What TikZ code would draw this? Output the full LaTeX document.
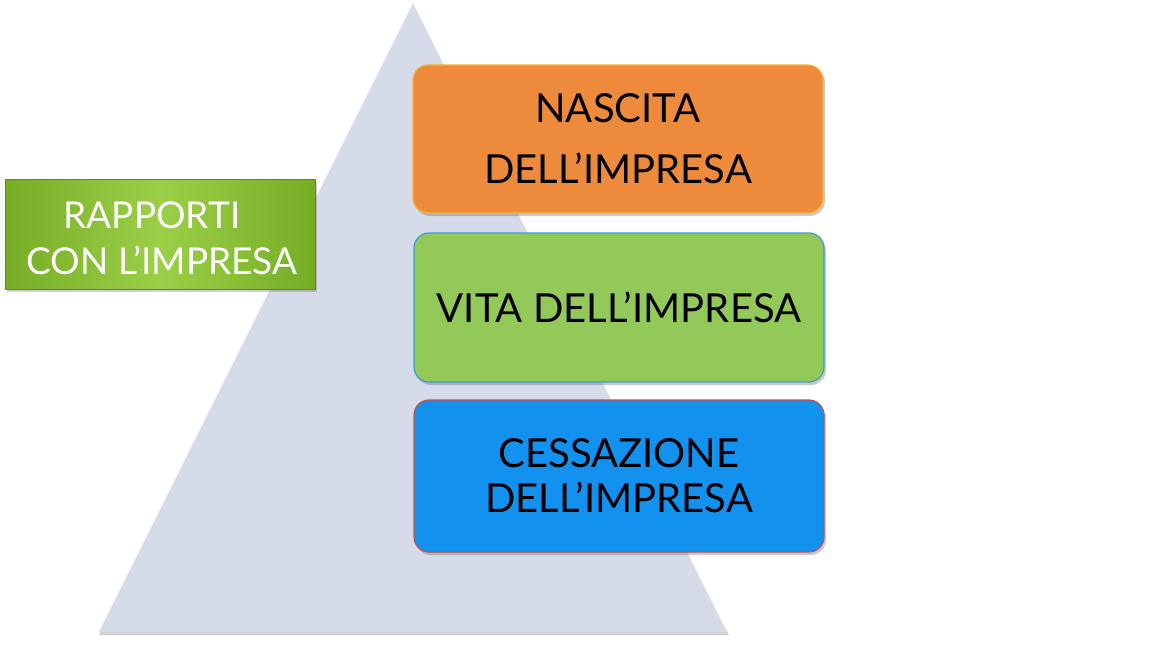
\documentclass[tikz,border=0pt]{standalone}
\usepackage{fontspec}
\setmainfont{Lato}
\usetikzlibrary{shadows}
\definecolor{tri}{HTML}{D5DBE9}
\definecolor{orangefill}{HTML}{EE8A3C}
\definecolor{orangeline}{HTML}{F7B232}
\definecolor{midgreen}{HTML}{93C958}
\definecolor{midline}{HTML}{3A9BDC}
\definecolor{bluefill}{HTML}{1391EE}
\definecolor{blueline}{HTML}{C0504D}
\definecolor{leftdark}{HTML}{76AD24}
\definecolor{leftlight}{HTML}{9BCF48}
\tikzset{
  stagebox/.style={rounded corners=15pt, minimum width=410pt, minimum height=148pt,
    line width=1.2pt, align=center, inner sep=0pt,
    drop shadow={shadow xshift=2pt, shadow yshift=-3pt, opacity=0.35, fill=black!60},
    font=\fontsize{40}{61}\selectfont},
  leftbox/.style={minimum width=310pt, minimum height=110pt, inner sep=0pt,
    left color=leftdark, right color=leftdark, middle color=leftlight,
    draw=leftdark!80!black, line width=0.6pt,
    drop shadow={shadow xshift=2pt, shadow yshift=-3pt, opacity=0.3, fill=black!60}},
  lefttext/.style={align=center, text=white, inner sep=0pt, font=\fontsize{37}{46}\selectfont}
}
\begin{document}
\begin{tikzpicture}[x=1pt,y=-1pt]
\useasboundingbox (0,0) rectangle (1152,648);
% pyramid
\fill[black, opacity=0.18] (413,6) -- (729,635) -- (99,635) -- cycle;
\fill[tri] (413,3) -- (727,632) -- (99,632) -- cycle;
\draw[white, line width=1.5pt] (415,5) -- (727,630);
% boxes
\node[stagebox, fill=orangefill, draw=orangeline] (nascita) at (618,139) {NASCITA\\DELL’IMPRESA};
\node[stagebox, fill=midgreen, draw=midline, minimum height=149pt] (vita) at (619,307.5) {VITA DELL’IMPRESA};
\node[stagebox, fill=bluefill, draw=blueline, minimum height=152pt, font=\fontsize{40}{45}\selectfont] (cessazione) at (619,476) {CESSAZIONE\\DELL’IMPRESA};
\node[leftbox] (rapporti) at (160,234) {};
\node[lefttext] (rapportitext) at (162,238) {RAPPORTI\hspace*{20pt}\\CON L’IMPRESA};
\end{tikzpicture}
\end{document}
